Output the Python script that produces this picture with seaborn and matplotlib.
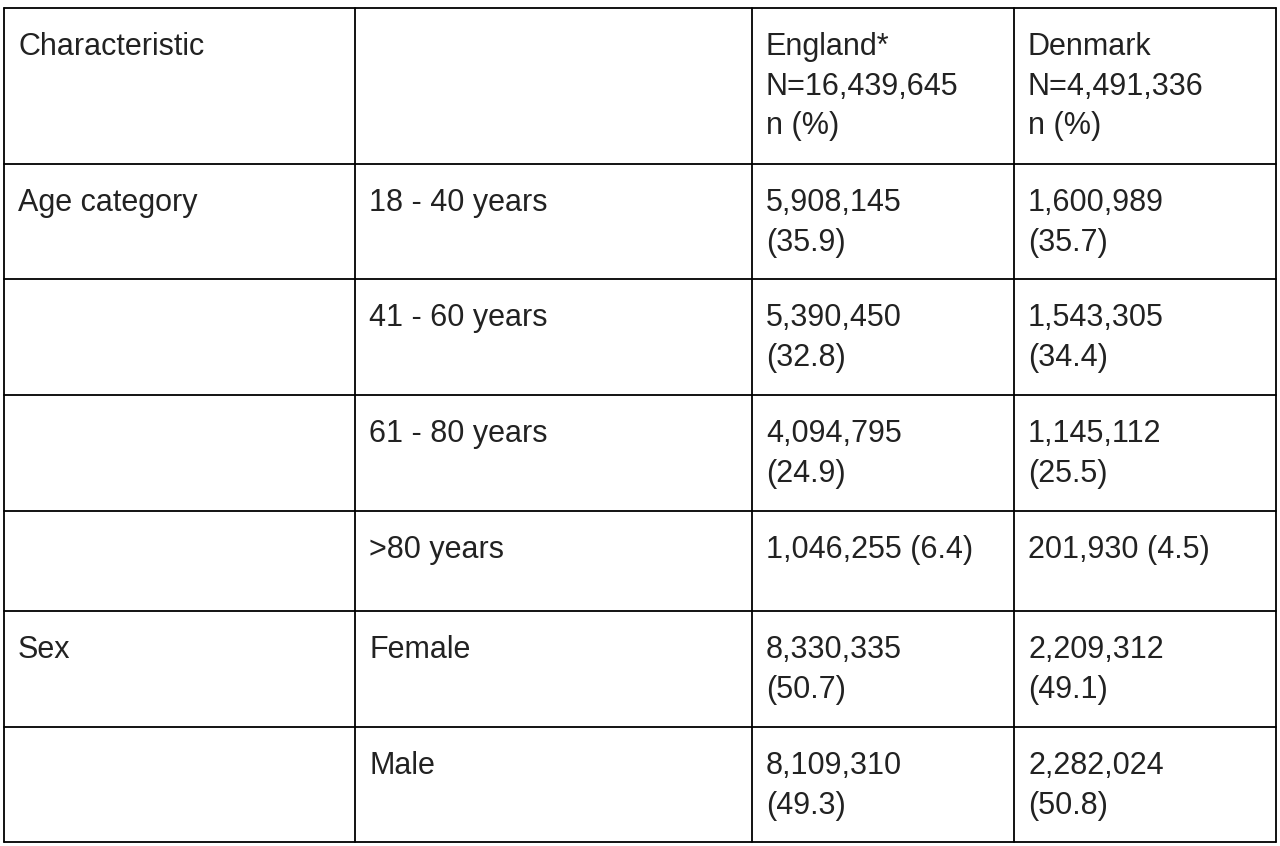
import matplotlib
matplotlib.use("Agg")
import matplotlib.pyplot as plt
import seaborn as sns

sns.set_theme(style="white")
plt.rcParams['font.family'] = ['Liberation Sans', 'DejaVu Sans']

header = ["Characteristic", "", "England*\nN=16,439,645\nn (%)", "Denmark\nN=4,491,336\nn (%)"]
characteristic = ["Age category", "", "", "", "Sex", ""]
category = ["18 - 40 years", "41 - 60 years", "61 - 80 years", ">80 years", "Female", "Male"]
england = ["5,908,145\n(35.9)", "5,390,450\n(32.8)", "4,094,795\n(24.9)", "1,046,255 (6.4)",
           "8,330,335\n(50.7)", "8,109,310\n(49.3)"]
denmark = ["1,600,989\n(35.7)", "1,543,305\n(34.4)", "1,145,112\n(25.5)", "201,930 (4.5)",
           "2,209,312\n(49.1)", "2,282,024\n(50.8)"]

col_edges = [4, 355, 752, 1014, 1276]
row_edges = [8, 164, 279, 395, 511, 611, 727, 842]

fig = plt.figure(figsize=(12.8, 8.46), dpi=100)
ax = fig.add_axes([0, 0, 1, 1])
ax.set_xlim(0, 1280)
ax.set_ylim(846, 0)
ax.axis("off")

for x in col_edges:
    ax.plot([x, x], [row_edges[0], row_edges[-1]], color="black", lw=1.3)
for y in row_edges:
    ax.plot([col_edges[0], col_edges[-1]], [y, y], color="black", lw=1.3)

rows = [header] + [[characteristic[i], category[i], england[i], denmark[i]] for i in range(len(category))]
for r, row in enumerate(rows):
    for c, txt in enumerate(row):
        if not txt:
            continue
        ax.text(col_edges[c] + 14, row_edges[r] + 24, txt, fontsize=22, color="#222222",
                va="top", ha="left", linespacing=1.42)

fig.savefig("out.png", dpi=100, facecolor="white")
